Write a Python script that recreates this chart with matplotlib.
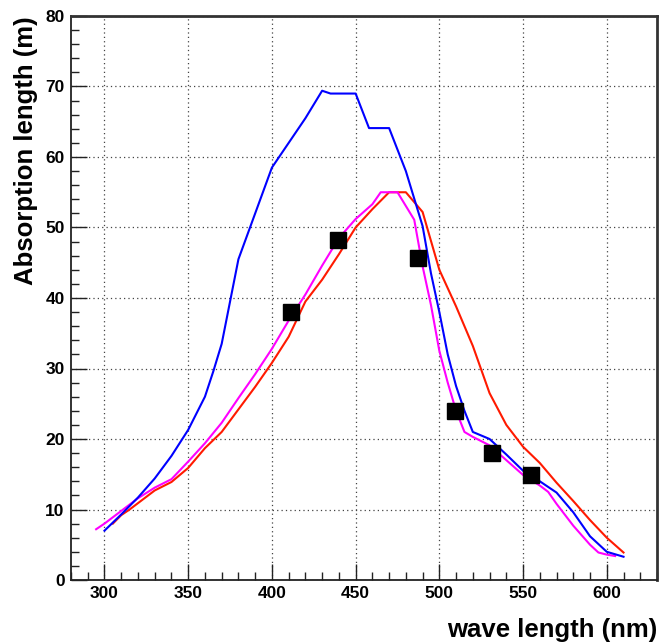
import matplotlib
matplotlib.use('Agg')
import matplotlib.pyplot as plt
from matplotlib.ticker import MultipleLocator

# blue curve
blue_nm = [300, 310, 320, 330, 340, 350, 360, 365, 370, 375, 380, 390, 400, 410, 420,
           430, 435, 450, 458, 470, 480, 490, 495, 500, 505, 510, 515, 520, 530, 540,
           550, 560, 570, 580, 590, 600, 610]
blue_len = [7.0, 9.3, 11.7, 14.4, 17.6, 21.3, 26.0, 29.6, 33.5, 39.5, 45.5, 52.0, 58.5, 62.0, 65.5,
            69.4, 69.0, 69.0, 64.1, 64.1, 58.0, 50.2, 43.5, 38.0, 32.0, 27.5, 24.0, 21.0, 20.0, 17.8,
            15.5, 14.0, 12.4, 9.6, 6.2, 4.0, 3.3]

# magenta curve
mag_nm = [295, 300, 310, 320, 330, 340, 350, 360, 370, 380, 390, 400, 410, 420, 430,
          440, 450, 460, 465, 475, 485, 490, 495, 500, 505, 510, 515, 520, 530, 540,
          550, 560, 565, 570, 580, 590, 595, 600, 605]
mag_len = [7.2, 8.0, 9.8, 11.6, 13.1, 14.3, 16.8, 19.4, 22.3, 25.8, 29.2, 32.8, 36.8, 40.5, 44.6,
           48.5, 51.2, 53.3, 55.0, 55.0, 51.1, 44.5, 39.0, 32.5, 28.0, 24.0, 21.0, 20.3, 19.1, 17.0,
           14.9, 13.4, 12.5, 10.8, 7.7, 5.0, 3.9, 3.6, 3.4]

# red curve
red_nm = [305, 310, 315, 320, 330, 340, 350, 360, 370, 380, 390, 400, 410, 420, 430,
          440, 450, 460, 470, 480, 490, 500, 510, 520, 530, 540, 550, 560, 570, 580,
          590, 600, 610]
red_len = [8.0, 9.2, 10.0, 10.9, 12.7, 13.9, 15.9, 18.7, 21.0, 24.2, 27.4, 30.8, 34.5, 39.5, 42.6,
           46.2, 50.0, 52.6, 55.0, 55.0, 52.2, 44.0, 38.8, 33.2, 26.5, 22.0, 18.9, 16.6, 13.8, 11.2,
           8.5, 6.0, 3.9]

# measured points
meas_nm = [411.5, 439.3, 487, 509.5, 531.5, 555]
meas_len = [38.0, 48.2, 45.7, 24.0, 18.0, 14.9]

plt.rcParams['font.family'] = ['Liberation Sans', 'DejaVu Sans']
plt.rcParams['font.weight'] = 'bold'

fig = plt.figure(figsize=(6.62, 6.43), dpi=100)
ax = fig.add_axes([71/662, 63/643, 586/662, 564/643])

ax.plot(red_nm, red_len, color='#ff1a00', lw=1.5, zorder=3)
ax.plot(mag_nm, mag_len, color='#ff00ff', lw=1.5, zorder=3)
ax.plot(blue_nm, blue_len, color='#0000ff', lw=1.5, zorder=4)
ax.plot(meas_nm, meas_len, ls='none', marker='s', ms=11, color='black', zorder=5)

ax.set_xlim(280, 630)
ax.set_ylim(0, 80)
ax.xaxis.set_major_locator(MultipleLocator(50))
ax.xaxis.set_minor_locator(MultipleLocator(10))
ax.yaxis.set_major_locator(MultipleLocator(10))
ax.yaxis.set_minor_locator(MultipleLocator(2))
ax.tick_params(which='both', direction='in', colors='#222222', width=1, labelsize=12.5, pad=4.5,
               labelcolor='black')
ax.tick_params(which='major', length=11.5)
ax.tick_params(which='minor', length=6)
for lab in ax.get_xticklabels() + ax.get_yticklabels():
    lab.set_fontweight('bold')

ax.grid(True, which='major', color='#444444', ls=(0, (1, 2.5)), lw=0.9)
for s in ['left', 'bottom']:
    ax.spines[s].set_linewidth(1.3)
    ax.spines[s].set_color('#222222')
for s in ['top', 'right']:
    ax.spines[s].set_linewidth(2)
    ax.spines[s].set_color('#333333')

ax.set_xlabel('wave length (nm)', fontsize=18.5, fontweight='bold', loc='right', labelpad=12)
ax.set_ylabel('Absorption length (m)', fontsize=18.5, fontweight='bold', loc='top', labelpad=5)

plt.savefig('out.png', dpi=100)
